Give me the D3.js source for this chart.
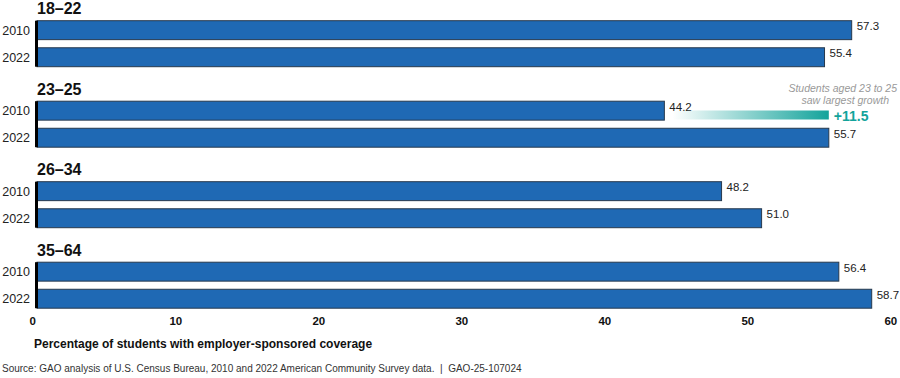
<!DOCTYPE html>
<html>
<head>
<meta charset="utf-8">
<script src="https://cdn.jsdelivr.net/npm/d3@7"></script>
<style>
  body { margin: 0; background: #fff; }
  svg { font-family: "Liberation Sans", Arial, sans-serif; display: block; }
</style>
</head>
<body>
<div id="chart"></div>
<script>
const ageGroups = ["18\u201322", "23\u201325", "26\u201334", "35\u201364"];
const years = ["2010", "2022"];
const values2010 = [57.3, 44.2, 48.2, 56.4];
const values2022 = [55.4, 55.7, 51.0, 58.7];
const tickValues = [0, 10, 20, 30, 40, 50, 60];

const width = 900, height = 378;
const blue = "#1f69b4";
const teal = "#13a39b";

const svg = d3.select("#chart").append("svg")
    .attr("width", width)
    .attr("height", height);

const x = d3.scaleLinear().domain([0, 60]).range([32.3, 890.3]);

const group = d3.scaleBand().domain(ageGroups).range([0, 322]).paddingInner(0);
const yearScale = d3.scaleBand().domain(years).range([20.7, 66.7]).paddingInner(0.3);

const rows = ageGroups.map((g, i) => ({
    group: g,
    bars: [
        { year: "2010", value: values2010[i] },
        { year: "2022", value: values2022[i] }
    ]
}));

const barLeft = 37;

const g = svg.selectAll("g.group")
    .data(rows)
    .join("g")
    .attr("class", "group")
    .attr("transform", d => `translate(0,${group(d.group)})`);

g.append("text")
    .attr("x", 37)
    .attr("y", 14)
    .attr("font-size", 16)
    .attr("font-weight", "bold")
    .attr("fill", "#111")
    .text(d => d.group);

const bar = g.selectAll("g.bar")
    .data(d => d.bars)
    .join("g")
    .attr("class", "bar");

bar.append("rect")
    .attr("x", barLeft)
    .attr("y", d => yearScale(d.year))
    .attr("width", d => x(d.value) - barLeft)
    .attr("height", yearScale.bandwidth())
    .attr("fill", blue)
    .attr("stroke", "#27394d")
    .attr("stroke-width", 1);

bar.append("text")
    .attr("x", d => x(d.value) + 5)
    .attr("y", d => yearScale(d.year) + yearScale.bandwidth() / 2 - 4)
    .attr("dy", "0.35em")
    .attr("font-size", 11.5)
    .attr("fill", "#222")
    .text(d => d.value.toFixed(1));

bar.append("text")
    .attr("x", 30)
    .attr("y", d => yearScale(d.year) + yearScale.bandwidth() / 2)
    .attr("dy", "0.35em")
    .attr("text-anchor", "end")
    .attr("font-size", 12.5)
    .attr("fill", "#222")
    .text(d => d.year);

g.append("rect")
    .attr("x", 35)
    .attr("y", yearScale("2010"))
    .attr("width", 3)
    .attr("height", yearScale("2022") + yearScale.bandwidth() - yearScale("2010"))
    .attr("fill", "#000");

// growth annotation for 23–25
const defs = svg.append("defs");
const grad = defs.append("linearGradient").attr("id", "growth");
grad.append("stop").attr("offset", "0%").attr("stop-color", teal).attr("stop-opacity", 0);
grad.append("stop").attr("offset", "100%").attr("stop-color", teal).attr("stop-opacity", 1);

const iGrow = 1;
const gy = group(ageGroups[iGrow]);
svg.append("rect")
    .attr("x", x(values2010[iGrow]) + 8)
    .attr("y", gy + 30)
    .attr("width", x(values2022[iGrow]) - x(values2010[iGrow]) - 8)
    .attr("height", 9)
    .attr("fill", "url(#growth)");

svg.append("text")
    .attr("x", x(values2022[iGrow]) + 5)
    .attr("y", gy + 40)
    .attr("font-size", 14)
    .attr("font-weight", "bold")
    .attr("fill", teal)
    .text("+" + (values2022[iGrow] - values2010[iGrow]).toFixed(1));

const note = svg.append("text")
    .attr("text-anchor", "end")
    .attr("font-size", 10.5)
    .attr("font-style", "italic")
    .attr("fill", "#999");
note.append("tspan").attr("x", 897).attr("y", gy + 11).text("Students aged 23 to 25");
note.append("tspan").attr("x", 889).attr("y", gy + 23).text("saw largest growth");

// x axis
const axis = svg.append("g")
    .attr("transform", "translate(0,317)")
    .call(d3.axisBottom(x).tickValues(tickValues).tickSize(0).tickPadding(0));
axis.select(".domain").remove();
axis.selectAll("text")
    .attr("font-family", "Liberation Sans, Arial, sans-serif")
    .attr("font-size", 11.5)
    .attr("font-weight", "bold")
    .attr("fill", "#111");

svg.append("text")
    .attr("x", 34)
    .attr("y", 348)
    .attr("font-size", 12)
    .attr("font-weight", "bold")
    .attr("fill", "#111")
    .text("Percentage of students with employer-sponsored coverage");

svg.append("text")
    .attr("x", 2)
    .attr("y", 372)
    .attr("font-size", 10)
    .attr("fill", "#333")
    .attr("xml:space", "preserve")
    .text("Source: GAO analysis of U.S. Census Bureau, 2010 and 2022 American Community Survey data.  |  GAO-25-107024");
</script>
</body>
</html>
